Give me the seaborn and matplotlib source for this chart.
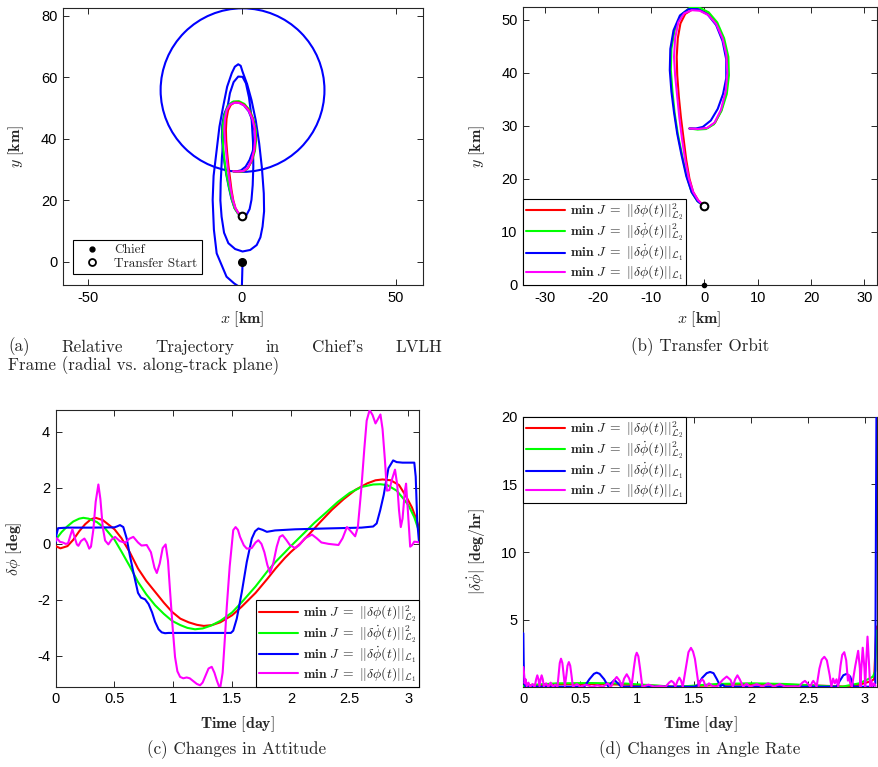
import numpy as np
import pandas as pd
import matplotlib
matplotlib.use("Agg")
import matplotlib.pyplot as plt
import seaborn as sns
from matplotlib.lines import Line2D
from matplotlib.patches import Circle
from matplotlib.ticker import FuncFormatter

# ---------------------------------------------------------------- data
# (a) drift trajectory of the deputy before the transfer [km]
drift_x = [0.2, 0.1, 0.0, -0.3, -1.0, -2.5, -5.0, -8.2, -9.1, -9.5, -9.2, -8.2, -7.3, -6.1,
           -4.8, -3.3, -2.3, -1.2, -0.4, 0.2, 1.7, 3.1, 4.5, 5.6, 6.5, 7.1, 7.2, 6.7, 6.0,
           4.8, 2.7, 0.2, -2.2, -4.4, -5.8, -6.6, -7.0, -6.9, -6.5, -5.8, -4.9, -3.9, -2.7,
           -1.2, 0.2, 1.3, 2.3, 3.1, 3.6, 3.7, 3.5, 3.1, 2.5, 1.5, 0.0]
drift_y = [0.0, -4.0, -7.5, -8.5, -8.0, -7.0, -4.8, 2.8, 10.5, 20.2, 28.0, 36.4, 44.0, 50.5,
           57.0, 61.4, 63.5, 64.3, 63.8, 61.9, 57.8, 52.7, 46.0, 38.6, 30.5, 22.3, 16.5,
           11.5, 8.0, 5.5, 3.9, 3.4, 4.2, 6.1, 9.5, 14.7, 20.0, 25.6, 34.0, 41.8, 49.0, 54.9,
           58.5, 60.3, 60.2, 58.1, 53.5, 47.3, 39.0, 31.0, 25.0, 20.2, 17.2, 15.3, 14.8]
# (a) final relative orbit after the transfer
final_center = (0.2, 55.9)
final_radius = 26.6

chief_pos = (0.0, 0.0)
transfer_start = (0.0, 14.8)

# (b) transfer orbits for each cost function [km]
red_x = [0.0, -1.2, -2.1, -2.8, -3.4, -3.9, -4.4, -4.8, -5.1, -5.2, -5.0, -4.5, -3.6, -2.3,
         -0.8, 0.8, 2.3, 3.5, 4.2, 4.4, 4.1, 3.2, 2.0, 0.6, -1.2, -2.8]
red_y = [14.8, 16.0, 17.5, 20.0, 23.5, 27.5, 31.5, 35.5, 39.5, 43.0, 46.5, 49.3, 51.1, 51.9,
         51.8, 51.0, 49.3, 46.6, 43.5, 40.0, 36.5, 33.0, 30.6, 29.6, 29.4, 29.5]
green_x = [0.0, -1.3, -2.4, -3.3, -4.2, -5.0, -5.6, -6.0, -6.3, -6.2, -5.6, -4.4, -2.8, -1.0,
           0.8, 2.4, 3.7, 4.5, 4.6, 4.2, 3.2, 1.8, 0.3, -1.3, -2.8]
green_y = [14.8, 15.8, 17.5, 20.5, 24.5, 28.5, 32.5, 36.5, 40.5, 44.5, 48.0, 50.9, 52.2, 52.3,
           51.4, 49.5, 46.5, 43.0, 39.5, 36.0, 32.8, 30.3, 29.4, 29.3, 29.5]
blue_x = [0.0, -1.3, -2.4, -3.4, -4.3, -5.1, -5.7, -6.2, -6.5, -6.4, -5.8, -4.6, -3.0, -1.2,
          0.6, 2.2, 3.4, 4.1, 4.1, 3.5, 2.5, 1.2, -0.3, -1.6, -2.8]
blue_y = [14.8, 15.8, 17.5, 20.5, 24.5, 28.5, 32.5, 36.5, 40.5, 44.5, 48.0, 50.8, 52.0, 52.0,
          51.0, 49.0, 46.0, 42.5, 39.0, 36.0, 33.2, 31.0, 29.8, 29.5, 29.5]
mag_x = [0.0, -1.2, -2.1, -2.9, -3.6, -4.2, -4.7, -5.1, -5.5, -5.7, -5.5, -4.9, -3.8, -2.4,
         -0.9, 0.7, 2.2, 3.4, 4.1, 4.3, 4.0, 3.1, 1.9, 0.5, -1.2, -2.8]
mag_y = [14.8, 16.0, 17.5, 20.0, 23.5, 27.5, 31.5, 35.5, 39.5, 43.0, 46.5, 49.5, 51.2, 51.8,
         51.7, 50.9, 49.2, 46.5, 43.5, 40.0, 36.5, 33.0, 30.6, 29.6, 29.4, 29.5]

# (c) attitude change [deg] vs time [day]
att_red_t = [0, 0.04, 0.1, 0.15, 0.2, 0.25, 0.3, 0.34, 0.4, 0.5, 0.56, 0.63, 0.7, 0.77, 0.845,
             0.92, 0.99, 1.06, 1.13, 1.2, 1.26, 1.33, 1.4, 1.5, 1.58, 1.7, 1.8, 1.87, 1.95, 2.0,
             2.08, 2.15, 2.25, 2.35, 2.45, 2.55, 2.65, 2.72, 2.78, 2.85, 2.92, 2.98, 3.03, 3.07,
             3.09]
att_red = [-0.08, -0.16, -0.08, 0.15, 0.45, 0.7, 0.88, 0.93, 0.85, 0.52, 0.2, -0.3, -0.88,
           -1.32, -1.71, -2.1, -2.43, -2.67, -2.8, -2.89, -2.93, -2.9, -2.8, -2.55, -2.25,
           -1.75, -1.25, -0.88, -0.5, -0.29, 0.01, 0.32, 0.78, 1.22, 1.6, 1.93, 2.16, 2.27,
           2.3, 2.27, 2.1, 1.7, 1.3, 0.85, 0.55]
att_green_t = [0, 0.05, 0.1, 0.15, 0.2, 0.235, 0.28, 0.35, 0.42, 0.5, 0.56, 0.63, 0.7, 0.77,
               0.845, 0.92, 0.99, 1.06, 1.12, 1.185, 1.25, 1.32, 1.4, 1.5, 1.583, 1.7, 1.8,
               1.866, 1.95, 2.0, 2.08, 2.2, 2.3, 2.4, 2.5, 2.6, 2.7, 2.76, 2.82, 2.9, 2.96,
               3.0, 3.05, 3.09]
att_green = [0.15, 0.42, 0.63, 0.8, 0.9, 0.93, 0.9, 0.78, 0.55, 0.15, -0.28, -0.8, -1.36,
             -1.8, -2.19, -2.5, -2.75, -2.9, -3.0, -3.05, -3.02, -2.92, -2.75, -2.45, -2.08,
             -1.52, -0.98, -0.66, -0.3, -0.08, 0.25, 0.75, 1.12, 1.5, 1.82, 2.03, 2.12, 2.13,
             2.1, 1.9, 1.6, 1.38, 0.95, 0.45]
att_blue_t = [0, 0.005, 0.02, 0.1, 0.3, 0.5, 0.52, 0.547, 0.575, 0.604, 0.63, 0.66, 0.70,
              0.725, 0.76, 0.79, 0.82, 0.845, 0.875, 0.902, 0.93, 0.96, 1.2, 1.49, 1.51, 1.54,
              1.583, 1.625, 1.668, 1.696, 1.724, 1.76, 1.796, 1.866, 2.037, 2.3, 2.6, 2.7,
              2.73, 2.76, 2.79, 2.83, 2.87, 2.9, 2.95, 3.05, 3.062, 3.075, 3.09]
att_blue = [0.05, 0.3, 0.56, 0.58, 0.58, 0.59, 0.62, 0.67, 0.6, 0.19, -0.4, -1.0, -1.75,
            -1.92, -1.98, -2.15, -2.45, -2.78, -3.05, -3.16, -3.19, -3.18, -3.18, -3.18,
            -3.1, -2.67, -1.72, -0.65, 0.19, 0.45, 0.55, 0.5, 0.43, 0.48, 0.52, 0.55, 0.58,
            0.62, 0.73, 1.2, 1.75, 2.7, 2.98, 2.92, 2.9, 2.9, 2.4, 0.8, 0.07]
att_mag_t = [0.0, 0.01, 0.037, 0.06, 0.085, 0.105, 0.125, 0.142, 0.16, 0.18, 0.193, 0.215,
             0.244, 0.265, 0.285, 0.3, 0.32, 0.34, 0.363, 0.38, 0.4, 0.42, 0.448, 0.475,
             0.505, 0.545, 0.59, 0.625, 0.66, 0.7, 0.73, 0.774, 0.81, 0.84, 0.86, 0.885,
             0.91, 0.935, 0.955, 0.972, 0.995, 1.015, 1.035, 1.058, 1.085, 1.114, 1.14, 1.17,
             1.2, 1.228, 1.25, 1.27, 1.3, 1.327, 1.35, 1.37, 1.39, 1.398, 1.42, 1.44, 1.455,
             1.48, 1.51, 1.53, 1.55, 1.568, 1.6, 1.625, 1.667, 1.7, 1.724, 1.75, 1.775, 1.8,
             1.823, 1.85, 1.88, 1.905, 1.93, 1.96, 1.993, 2.037, 2.07, 2.12, 2.18, 2.22, 2.26,
             2.32, 2.405, 2.44, 2.477, 2.51, 2.547, 2.57, 2.6, 2.625, 2.645, 2.67, 2.695,
             2.72, 2.74, 2.762, 2.78, 2.8, 2.817, 2.838, 2.86, 2.886, 2.905, 2.92, 2.935,
             2.95, 2.97, 2.98, 2.995, 3.015, 3.03, 3.05, 3.07, 3.09]
att_mag = [0.1, 0.2, 0.07, 0.05, 0.0, 0.02, 0.3, 0.52, 0.25, -0.02, -0.07, 0.1, 0.19, 0.05,
           -0.17, -0.1, 0.5, 1.5, 2.12, 1.6, 0.6, 0.12, -0.02, 0.15, 0.25, 0.1, 0.04, 0.18,
           0.25, 0.05, -0.06, -0.04, -0.3, -0.85, -1.04, -0.7, -0.15, -0.02, -0.6, -1.65,
           -3.0, -4.04, -4.55, -4.75, -4.8, -4.77, -4.8, -4.9, -5.0, -5.05, -4.95, -4.75,
           -4.45, -4.39, -4.6, -4.87, -5.1, -5.17, -4.6, -3.3, -2.25, -0.8, 0.49, 0.6, 0.5,
           0.25, -0.05, -0.17, -0.15, 0.05, 0.13, 0.0, -0.3, -0.75, -1.04, -0.7, -0.1, 0.25,
           0.31, 0.15, -0.05, -0.15, -0.05, 0.2, 0.33, 0.2, 0.05, 0.0, -0.04, 0.2, 0.6,
           0.45, 0.27, 0.6, 2.0, 3.4, 4.4, 4.78, 4.6, 4.3, 4.45, 4.62, 4.1, 3.0, 1.9, 1.92,
           2.3, 2.65, 2.1, 1.2, 0.6, 0.9, 1.9, 2.15, 1.2, -0.1, -0.05, 0.08, 0.07, 0.05]

# (d) angle-rate magnitude [deg/hr] vs time [day]
rate_red_t = [0, 0.1, 0.3, 0.6, 0.9, 1.2, 1.35, 1.5, 1.8, 2.1, 2.4, 2.7, 2.85, 2.95, 3.05,
              3.08, 3.1]
rate_red = [0.05, 0.15, 0.22, 0.25, 0.2, 0.1, 0.05, 0.1, 0.2, 0.22, 0.18, 0.1, 0.05, 0.2,
            0.45, 0.6, 4.5]
rate_green_t = [0, 0.1, 0.3, 0.6, 0.9, 1.2, 1.3, 1.45, 1.7, 2.0, 2.3, 2.6, 2.8, 2.95, 3.05,
                3.07, 3.09, 3.1]
rate_green = [0.1, 0.2, 0.3, 0.32, 0.28, 0.12, 0.05, 0.1, 0.25, 0.3, 0.25, 0.12, 0.05, 0.3,
              0.7, 0.8, 1.2, 4.2]
rate_blue_t = [0.0, 0.003, 0.008, 0.02, 0.5, 0.54, 0.58, 0.62, 0.644, 0.67, 0.71, 0.745,
               0.77, 0.8, 0.83, 0.86, 1.5, 1.53, 1.57, 1.61, 1.64, 1.67, 1.70, 1.73, 1.75,
               1.77, 2.75, 2.78, 2.81, 2.84, 2.87, 2.9, 3.07, 3.09, 3.103]
rate_blue = [4.0, 2.0, 0.3, 0.05, 0.05, 0.1, 0.6, 1.0, 1.09, 1.0, 0.6, 0.08, 0.3, 0.55, 0.3,
             0.05, 0.05, 0.15, 0.7, 1.05, 1.14, 1.05, 0.6, 0.08, 0.2, 0.05, 0.05, 0.5, 0.9,
             1.0, 0.8, 0.05, 0.05, 0.3, 25.0]
rate_mag_t = [0.0, 0.005, 0.012, 0.02, 0.03, 0.045, 0.06, 0.08, 0.1, 0.113, 0.123, 0.133,
              0.142, 0.152, 0.161, 0.171, 0.18, 0.2, 0.22, 0.24, 0.26, 0.28, 0.3, 0.31, 0.32,
              0.331, 0.343, 0.355, 0.365, 0.378, 0.388, 0.4, 0.412, 0.423, 0.435, 0.47, 0.5,
              0.55, 0.6, 0.65, 0.7, 0.74, 0.77, 0.795, 0.82, 0.845, 0.865, 0.885, 0.908,
              0.93, 0.95, 0.97, 0.985, 0.996, 1.01, 1.025, 1.045, 1.1, 1.15, 1.2, 1.25, 1.28,
              1.3, 1.32, 1.335, 1.355, 1.37, 1.385, 1.4, 1.43, 1.45, 1.472, 1.49, 1.507,
              1.525, 1.54, 1.555, 1.57, 1.585, 1.6, 1.63, 1.66, 1.7, 1.75, 1.786, 1.82, 1.84,
              1.86, 1.88, 1.9, 1.93, 1.96, 1.99, 2.05, 2.1, 2.15, 2.2, 2.25, 2.3, 2.38, 2.42,
              2.45, 2.473, 2.5, 2.52, 2.535, 2.546, 2.56, 2.575, 2.6, 2.62, 2.643, 2.665, 2.69,
              2.705, 2.72, 2.735, 2.75, 2.765, 2.785, 2.8, 2.818, 2.835, 2.85, 2.86, 2.87,
              2.885, 2.915, 2.94, 2.955, 2.96, 2.968, 2.98, 2.995, 3.002, 3.01, 3.022, 3.035,
              3.045, 3.055, 3.065, 3.08, 3.092]
rate_mag = [1.5, 1.2, 0.3, 0.6, 0.1, 0.35, 0.05, 0.25, 0.05, 0.6, 0.89, 0.6, 0.1, 0.6, 0.89,
            0.6, 0.08, 0.3, 0.05, 0.35, 0.05, 0.2, 0.05, 0.9, 1.8, 2.12, 1.8, 0.9, 0.1, 0.9,
            1.6, 1.87, 1.6, 0.9, 0.05, 0.25, 0.05, 0.2, 0.05, 0.15, 0.05, 0.3, 0.05, 0.5,
            0.77, 0.5, 0.05, 0.65, 0.97, 0.65, 0.05, 1.4, 2.3, 2.56, 2.3, 1.4, 0.05, 0.2,
            0.05, 0.1, 0.05, 0.35, 0.48, 0.35, 0.05, 0.5, 0.72, 0.5, 0.05, 1.6, 2.6, 2.92,
            2.65, 2.1, 1.0, 0.1, 0.45, 0.6, 0.45, 0.05, 0.3, 0.1, 0.05, 0.55, 0.8, 0.55,
            0.05, 0.6, 0.89, 0.6, 0.05, 0.28, 0.05, 0.25, 0.05, 0.3, 0.05, 0.25, 0.05, 0.08,
            0.05, 0.35, 0.48, 0.25, 0.05, 0.35, 0.48, 0.3, 0.05, 1.4, 2.05, 2.26, 2.0, 0.9,
            0.05, 0.65, 0.3, 0.6, 0.05, 1.6, 2.4, 2.6, 2.0, 0.5, 0.9, 0.3, 0.05, 1.6, 2.7,
            1.4, 0.05, 1.4, 2.93, 1.4, 0.05, 1.8, 3.75, 1.8, 0.05, 0.5, 0.1, 0.3, 0.1]

labels = [r"$\mathbf{min}\ J\;=\;||\delta\phi(t)||^{2}_{\mathcal{L}_{2}}$",
          r"$\mathbf{min}\ J\;=\;||\delta\dot{\phi}(t)||^{2}_{\mathcal{L}_{2}}$",
          r"$\mathbf{min}\ J\;=\;||\delta\dot{\phi}(t)||_{\mathcal{L}_{1}}$",
          r"$\mathbf{min}\ J\;=\;||\delta\phi(t)||_{\mathcal{L}_{1}}$"]
colors = ["#ff0000", "#00ff00", "#0000ff", "#ff00ff"]

caption_a1 = "(a) Relative Trajectory in Chief's LVLH"
caption_a2 = "Frame (radial vs. along-track plane)"
caption_b = "(b) Transfer Orbit"
caption_c = "(c) Changes in Attitude"
caption_d = "(d) Changes in Angle Rate"

# ---------------------------------------------------------------- style
sns.set_theme(style="white")
plt.rcParams.update({
    "font.family": ["Liberation Sans", "DejaVu Sans"],
    "mathtext.fontset": "cm",
    "axes.unicode_minus": False,
    "axes.edgecolor": "#262626",
    "axes.linewidth": 0.8,
    "axes.facecolor": "white",
    "figure.facecolor": "white",
})

W, H = 879, 767
fig = plt.figure(figsize=(W / 100, H / 100), dpi=100)


def add_panel(left, top, right, bottom):
    return fig.add_axes([left / W, 1 - bottom / H, (right - left) / W, (bottom - top) / H])


def trace(ax, xs, ys, color, lw=1.5, z=2):
    df = pd.DataFrame({"x": xs, "y": ys})
    sns.lineplot(data=df, x="x", y="y", sort=False, estimator=None, color=color,
                 linewidth=lw, ax=ax, zorder=z, legend=False)


def style_axes(ax):
    ax.tick_params(axis="both", which="both", direction="in", top=True, right=True,
                   bottom=True, left=True, length=4, width=0.7, labelsize=10.5,
                   colors="#262626", labelcolor="black", pad=4)
    for s in ax.spines.values():
        s.set_visible(True)
        s.set_color("#262626")
        s.set_linewidth(0.8)


fmt = FuncFormatter(lambda v, p: "%g" % v)
lab_size = 11.5
curve_legend = dict(prop={"size": 9.8}, frameon=True, fancybox=False, framealpha=1,
                    edgecolor="black", borderaxespad=0, handlelength=2.9,
                    handletextpad=0.35, labelspacing=0.0, borderpad=0.2)


def curve_handles():
    return [Line2D([], [], color=c, lw=1.5) for c in colors]


ax_a = add_panel(63, 8, 423, 285)
ax_b = add_panel(523.3, 7, 877, 285)
ax_c = add_panel(55.7, 410, 419, 686.7)
ax_d = add_panel(523.3, 416.7, 877.3, 686.7)

# ---------------------------------------------------------------- (a)
trace(ax_a, drift_x, drift_y, colors[2], z=2)
ax_a.add_patch(Circle(final_center, final_radius, fill=False, ec=colors[2], lw=1.5, zorder=2))
for xs, ys, c in zip([blue_x, green_x, red_x, mag_x], [blue_y, green_y, red_y, mag_y],
                     [colors[2], colors[1], colors[0], colors[3]]):
    trace(ax_a, xs, ys, c, z=3)
ax_a.plot(*chief_pos, "o", color="black", ms=5.5, zorder=5)
ax_a.plot(*transfer_start, "o", mfc="white", mec="black", mew=1.5, ms=5.5, zorder=5)
ax_a.set_xlim(-58.1, 58.8)
ax_a.set_ylim(-7.5, 82.6)
ax_a.set_xticks([-50, 0, 50])
ax_a.set_yticks([0, 20, 40, 60, 80])
style_axes(ax_a)
ax_a.xaxis.set_major_formatter(fmt)
ax_a.yaxis.set_major_formatter(fmt)
ax_a.set_xlabel(r"$x\ [\mathbf{km}]$", fontsize=lab_size)
ax_a.set_ylabel(r"$y\ [\mathbf{km}]$", fontsize=lab_size)
ax_a.xaxis.set_label_coords(0.497, -0.087)
ax_a.yaxis.set_label_coords(-0.103, 0.5)
leg_a = ax_a.legend(
    [Line2D([], [], marker="o", ls="none", color="black", ms=3.5),
     Line2D([], [], marker="o", ls="none", mfc="white", mec="black", mew=1.3, ms=5)],
    ["Chief", "Transfer Start"], loc="lower left", bbox_to_anchor=(0.028, 0.04),
    prop={"family": ["cmr10", "DejaVu Serif"], "size": 9.6}, frameon=True, fancybox=False,
    framealpha=1, edgecolor="black", borderaxespad=0, handlelength=2.2, handletextpad=0.6,
    labelspacing=0.1, borderpad=0.3)
leg_a.get_frame().set_linewidth(0.8)

# ---------------------------------------------------------------- (b)
for xs, ys, c in zip([red_x, green_x, blue_x, mag_x], [red_y, green_y, blue_y, mag_y], colors):
    trace(ax_b, xs, ys, c, z=3)
ax_b.plot(*chief_pos, "o", color="black", ms=3, zorder=5, clip_on=False)
ax_b.plot(*transfer_start, "o", mfc="white", mec="black", mew=1.5, ms=5.5, zorder=5)
ax_b.set_xlim(-34.0, 32.4)
ax_b.set_ylim(0, 52.4)
ax_b.set_xticks(np.arange(-30, 31, 10))
ax_b.set_yticks(np.arange(0, 51, 10))
style_axes(ax_b)
ax_b.xaxis.set_major_formatter(fmt)
ax_b.yaxis.set_major_formatter(fmt)
ax_b.set_xlabel(r"$x\ [\mathbf{km}]$", fontsize=lab_size)
ax_b.set_ylabel(r"$y\ [\mathbf{km}]$", fontsize=lab_size)
ax_b.xaxis.set_label_coords(0.498, -0.086)
ax_b.yaxis.set_label_coords(-0.102, 0.5)
leg_b = ax_b.legend(curve_handles(), labels, loc="lower left", **curve_legend)
leg_b.get_frame().set_linewidth(0.8)

# ---------------------------------------------------------------- (c)
for ts, ys, c in zip([att_red_t, att_green_t, att_blue_t, att_mag_t],
                     [att_red, att_green, att_blue, att_mag], colors):
    trace(ax_c, ts, ys, c, z=3)
ax_c.set_xlim(0, 3.09)
ax_c.set_ylim(-5.1, 4.78)
ax_c.set_xticks(np.arange(0, 3.01, 0.5))
ax_c.set_yticks([-4, -2, 0, 2, 4])
style_axes(ax_c)
ax_c.xaxis.set_major_formatter(fmt)
ax_c.yaxis.set_major_formatter(fmt)
ax_c.set_xlabel(r"$\mathbf{Time\ [day]}$", fontsize=lab_size)
ax_c.set_ylabel(r"$\delta\phi\ [\mathbf{deg}]$", fontsize=lab_size)
ax_c.xaxis.set_label_coords(0.499, -0.099)
ax_c.yaxis.set_label_coords(-0.087, 0.5)
leg_c = ax_c.legend(curve_handles(), labels, loc="lower right", **curve_legend)
leg_c.get_frame().set_linewidth(0.8)

# ---------------------------------------------------------------- (d)
for ts, ys, c in zip([rate_red_t, rate_green_t, rate_blue_t, rate_mag_t],
                     [rate_red, rate_green, rate_blue, rate_mag], colors):
    trace(ax_d, ts, ys, c, z=3)
ax_d.set_xlim(0, 3.108)
ax_d.set_ylim(0.05, 20)
ax_d.set_xticks(np.arange(0, 3.01, 0.5))
ax_d.set_yticks([5, 10, 15, 20])
style_axes(ax_d)
ax_d.xaxis.set_major_formatter(fmt)
ax_d.yaxis.set_major_formatter(fmt)
ax_d.set_xlabel(r"$\mathbf{Time\ [day]}$", fontsize=lab_size)
ax_d.set_ylabel(r"$|\delta\dot{\phi}|\ [\mathbf{deg/hr}]$", fontsize=lab_size)
ax_d.xaxis.set_label_coords(0.499, -0.101)
ax_d.yaxis.set_label_coords(-0.1, 0.5)
leg_d = ax_d.legend(curve_handles(), labels, loc="upper left", **curve_legend)
leg_d.get_frame().set_linewidth(0.8)

# ---------------------------------------------------------------- captions
cap_font = {"family": ["cmr10", "DejaVu Serif"], "size": 12.3}
renderer = fig.canvas.get_renderer()

# first caption line is justified between the two margins
words = caption_a1.split()
word_texts = [fig.text(0, 1 - 347 / H, w, fontdict=cap_font, ha="left", va="center")
              for w in words]
widths = [t.get_window_extent(renderer).width for t in word_texts]
x_left, x_right = 8, 442
gap = (x_right - x_left - sum(widths)) / (len(words) - 1)
xpos = x_left
for t, w in zip(word_texts, widths):
    t.set_x(xpos / W)
    xpos += w + gap
fig.text(8 / W, 1 - 366 / H, caption_a2, fontdict=cap_font, ha="left", va="center")
fig.text(700 / W, 1 - 347 / H, caption_b, fontdict=cap_font, ha="center", va="center")
fig.text(237 / W, 1 - 750 / H, caption_c, fontdict=cap_font, ha="center", va="center")
fig.text(700 / W, 1 - 750 / H, caption_d, fontdict=cap_font, ha="center", va="center")

fig.savefig("out.png", dpi=100)
